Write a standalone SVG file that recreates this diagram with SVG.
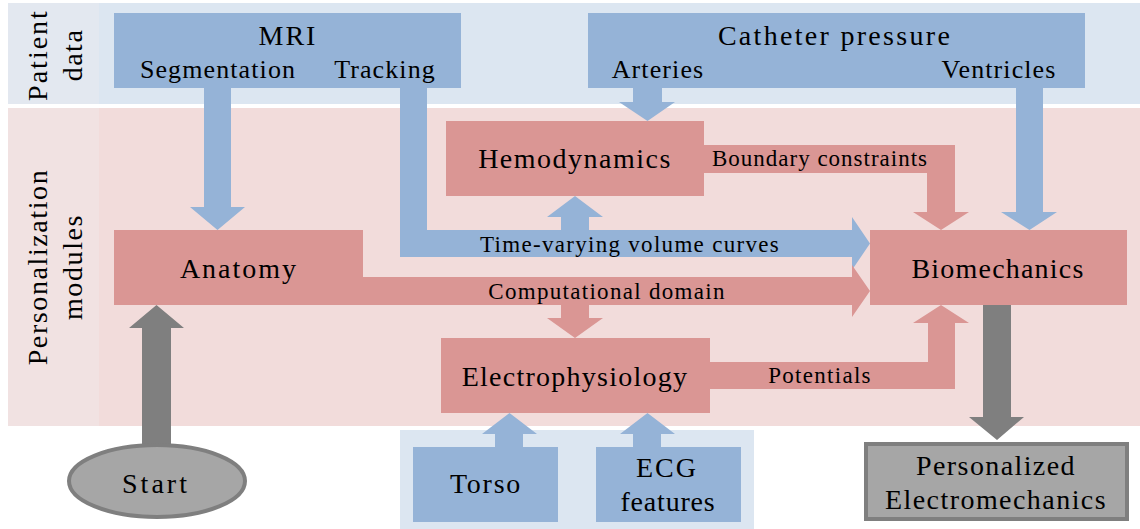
<svg xmlns="http://www.w3.org/2000/svg" width="1140" height="529" viewBox="0 0 1140 529" font-family="Liberation Serif, serif">
<style>
text{font-family:'Liberation Serif',serif;fill:#000;text-anchor:middle}
.n{font-size:28px}
.s{font-size:26px;letter-spacing:1.1px}
.a{font-size:23px;letter-spacing:1.3px}
.blue{fill:#95b3d7}
.red{fill:#da9694}
.gray{fill:#7f7f7f}
.bnode{fill:#95b3d7}
.rnode{fill:#da9694}
</style>
<g id="bands">
<rect x="8" y="3" width="1132" height="101" fill="#dce6f1"/>
<rect x="8" y="3" width="91" height="101" fill="#e3e8f0"/>
<rect x="8" y="108" width="1132" height="318" fill="#f2dcdb"/>
<rect x="8" y="108" width="91" height="318" fill="#f1e2e2"/>
<rect x="400" y="430" width="354" height="99" fill="#dce6f1"/>
<text class="n" transform="translate(47,55) rotate(-90)" style="letter-spacing:2px">Patient</text>
<text class="n" transform="translate(82,55) rotate(-90)" style="letter-spacing:1.5px">data</text>
<text class="n" transform="translate(47,267) rotate(-90)" style="letter-spacing:1.6px">Personalization</text>
<text class="n" transform="translate(82,267) rotate(-90)" style="letter-spacing:1.6px">modules</text>
</g>
<g id="connectors">
<path class="blue" d="M204,88H231V207H245L217.5,230L190,207H204Z"/>
<path class="blue" d="M400,88H427V230H852V217L870,243.5L852,270V257H400Z"/>
<path class="blue" d="M561,230V217H547L575,196L603,217H589V230Z"/>
<path class="blue" d="M633,88H662V102H675L647.5,121L619,102H633Z"/>
<path class="blue" d="M1016,88H1043V212H1057L1029.5,230L1001,212H1016Z"/>
<path class="red" d="M704,145H955V212H969L941,230L913,212H927V173H704Z"/>
<path class="red" d="M363,277H852V265L870,291L852,317V305H363Z"/>
<path class="red" d="M561,305H589V318H603L575,338L547,318H561Z"/>
<path class="red" d="M710,362H928V323H913L941,305L969,323H955V389H710Z"/>
<path class="blue" d="M495,447V434H482L509.5,413L537,434H523V447Z"/>
<path class="blue" d="M633,447V434H620L647.5,413L675,434H661V447Z"/>
<path class="gray" d="M142,446V328H129L156.5,305L184,328H171V446Z"/>
<path class="gray" d="M983,305H1011V417H1024L997,440L969,417H983Z"/>
<text class="a" x="630" y="252">Time-varying volume curves</text>
<text class="a" x="607" y="299">Computational domain</text>
<text class="a" x="820" y="166" style="letter-spacing:1px">Boundary constraints</text>
<text class="a" x="820" y="383">Potentials</text>
</g>
<g id="mri">
<rect class="bnode" x="114" y="13" width="347" height="75"/>
<text class="n" x="288" y="45" style="letter-spacing:2px">MRI</text>
<text class="s" x="218" y="78">Segmentation</text>
<text class="s" x="385" y="78">Tracking</text>
</g>
<g id="catheter">
<rect class="bnode" x="588" y="13" width="497" height="75"/>
<text class="n" x="835" y="45" style="letter-spacing:2.3px">Catheter pressure</text>
<text class="s" x="658" y="78">Arteries</text>
<text class="s" x="999" y="78">Ventricles</text>
</g>
<g id="hemodynamics">
<rect class="rnode" x="446" y="121" width="258" height="75"/>
<text class="n" x="575" y="168" style="letter-spacing:1.5px">Hemodynamics</text>
</g>
<g id="anatomy">
<rect class="rnode" x="114" y="230" width="249" height="75"/>
<text class="n" x="239" y="278" style="letter-spacing:2px">Anatomy</text>
</g>
<g id="biomechanics">
<rect class="rnode" x="870" y="230" width="257" height="75"/>
<text class="n" x="998" y="278" style="letter-spacing:1.2px">Biomechanics</text>
</g>
<g id="electrophysiology">
<rect class="rnode" x="441" y="338" width="269" height="75"/>
<text class="n" x="575" y="386" style="letter-spacing:1.25px">Electrophysiology</text>
</g>
<g id="torso">
<rect class="bnode" x="413" y="447" width="145" height="75"/>
<text class="n" x="486" y="493" style="letter-spacing:1.75px">Torso</text>
</g>
<g id="ecg">
<rect class="bnode" x="596" y="447" width="145" height="75"/>
<text class="n" x="667" y="477" style="letter-spacing:2px">ECG</text>
<text class="n" x="668" y="511" style="letter-spacing:0.8px">features</text>
</g>
<g id="start">
<ellipse cx="157" cy="481" rx="88" ry="36" fill="#a6a6a6" stroke="#7f7f7f" stroke-width="4"/>
<text class="n" x="156" y="493" style="letter-spacing:3px">Start</text>
</g>
<g id="personalized">
<rect x="866" y="444" width="261" height="75" fill="#a6a6a6" stroke="#7f7f7f" stroke-width="4"/>
<text class="n" x="996" y="475" style="letter-spacing:1.4px">Personalized</text>
<text class="n" x="996" y="509" style="letter-spacing:1.45px">Electromechanics</text>
</g>
</svg>
